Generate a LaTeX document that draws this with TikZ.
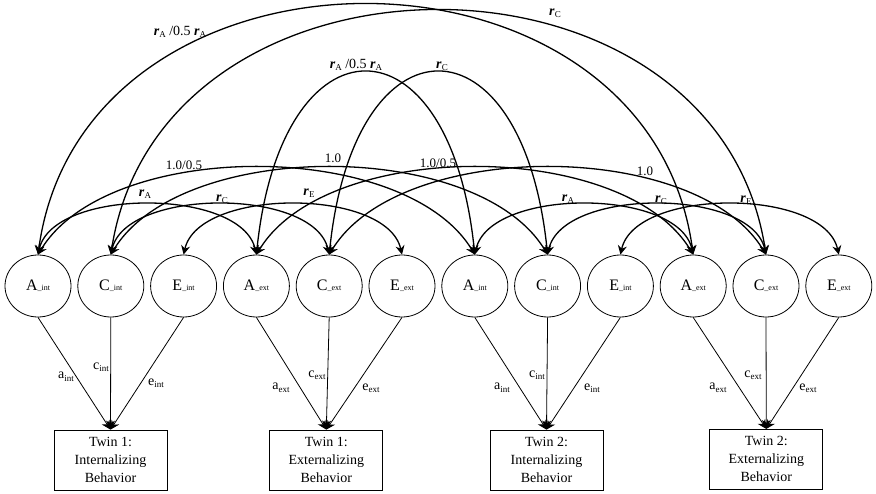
\documentclass[tikz,border=0pt]{standalone}
\usepackage{fontspec}
\setmainfont{Liberation Serif}
\usetikzlibrary{shapes.geometric,arrows.meta}
\newcommand\latlab[2]{{\fontsize{16}{16}\selectfont #1}{\fontsize{8}{8}\selectfont\_#2}}
\newcommand\pathlab[2]{#1\raisebox{-2.5pt}{\fontsize{9}{9}\selectfont #2}}
\newcommand\corlab[1]{\textbf{\textit{r}}\raisebox{-2.5pt}{\fontsize{9}{9}\selectfont #1}}
\begin{document}
\begin{tikzpicture}[x=1pt,y=-1pt,
  lat/.style={ellipse,draw,line width=0.8pt,minimum width=66pt,minimum height=62pt,inner sep=0pt},
  obs/.style={rectangle,draw,line width=0.8pt,minimum width=113pt,minimum height=60pt,align=center,font=\fontsize{14}{18}\selectfont,inner sep=0pt},
  cor/.style={line width=1.3pt,{Stealth[length=9pt,width=9pt]}-{Stealth[length=9pt,width=9pt]}},
  load/.style={line width=0.8pt,-{Stealth[length=9pt,width=9pt]}},
  lbl/.style={inner sep=0pt,font=\fontsize{14}{14}\selectfont},
  num/.style={inner sep=0pt,font=\fontsize{13}{13}\selectfont}
]
\useasboundingbox (0,0) rectangle (876,494);
\fill[white] (0,0) rectangle (876,494);

% latent variables
\node[lat] (A1i) at (38,286)    {\latlab{A}{int}};
\node[lat] (C1i) at (110.8,286) {\latlab{C}{int}};
\node[lat] (E1i) at (183.6,286) {\latlab{E}{int}};
\node[lat] (A1e) at (256.4,286) {\latlab{A}{ext}};
\node[lat] (C1e) at (329.2,286) {\latlab{C}{ext}};
\node[lat] (E1e) at (402,286)   {\latlab{E}{ext}};
\node[lat] (A2i) at (474.8,286) {\latlab{A}{int}};
\node[lat] (C2i) at (547.6,286) {\latlab{C}{int}};
\node[lat] (E2i) at (620.4,286) {\latlab{E}{int}};
\node[lat] (A2e) at (693.2,286) {\latlab{A}{ext}};
\node[lat] (C2e) at (766,286)   {\latlab{C}{ext}};
\node[lat] (E2e) at (838.8,286) {\latlab{E}{ext}};

% observed variables
\node[obs] (B1i) at (110.5,460) {Twin 1:\\Internalizing\\Behavior};
\node[obs] (B1e) at (326.3,460) {Twin 1:\\Externalizing\\Behavior};
\node[obs] (B2i) at (546.5,460) {Twin 2:\\Internalizing\\Behavior};
\node[obs] (B2e) at (766.3,459.3) {Twin 2:\\Externalizing\\Behavior};

% loadings
\draw[load] (A1i.south) -- (B1i.north);
\draw[load] (C1i.south) -- (B1i.north);
\draw[load] (E1i.south) -- (B1i.north);
\draw[load] (A1e.south) -- (B1e.north);
\draw[load] (C1e.south) -- (B1e.north);
\draw[load] (E1e.south) -- (B1e.north);
\draw[load] (A2i.south) -- (B2i.north);
\draw[load] (C2i.south) -- (B2i.north);
\draw[load] (E2i.south) -- (B2i.north);
\draw[load] (A2e.south) -- (B2e.north);
\draw[load] (C2e.south) -- (B2e.north);
\draw[load] (E2e.south) -- (B2e.north);

\node[lbl] (la1) at (66,377)  {\pathlab{a}{int}};
\node[lbl] (lc1) at (101,367) {\pathlab{c}{int}};
\node[lbl] (le1) at (156,383) {\pathlab{e}{int}};
\node[lbl] (la2) at (281,388) {\pathlab{a}{ext}};
\node[lbl] (lc2) at (317,375) {\pathlab{c}{ext}};
\node[lbl] (le2) at (371,388) {\pathlab{e}{ext}};
\node[lbl] (la3) at (502,388) {\pathlab{a}{int}};
\node[lbl] (lc3) at (537,375) {\pathlab{c}{int}};
\node[lbl] (le3) at (592,388) {\pathlab{e}{int}};
\node[lbl] (la4) at (718,388) {\pathlab{a}{ext}};
\node[lbl] (lc4) at (753,375) {\pathlab{c}{ext}};
\node[lbl] (le4) at (808,388) {\pathlab{e}{ext}};

% within-twin correlations
\draw[cor] (A1i.north) .. controls +(15,-67) and +(-15,-67) .. (A1e.north);
\draw[cor] (C1i.north) .. controls +(15,-67) and +(-15,-67) .. (C1e.north);
\draw[cor] (E1i.north) .. controls +(15,-67) and +(-15,-67) .. (E1e.north);
\draw[cor] (A2i.north) .. controls +(15,-67) and +(-15,-67) .. (A2e.north);
\draw[cor] (C2i.north) .. controls +(15,-67) and +(-15,-67) .. (C2e.north);
\draw[cor] (E2i.north) .. controls +(15,-67) and +(-15,-67) .. (E2e.north);

% cross-twin same trait
\draw[cor] (A1i.north) .. controls +(70,-116) and +(-70,-116) .. (A2i.north);
\draw[cor] (C1i.north) .. controls +(70,-116) and +(-70,-116) .. (C2i.north);
\draw[cor] (A1e.north) .. controls +(70,-116) and +(-70,-116) .. (A2e.north);
\draw[cor] (C1e.north) .. controls +(70,-116) and +(-70,-116) .. (C2e.north);

% cross-twin cross-trait
\draw[cor] (A1e.north) .. controls +(25,-243) and +(-25,-243) .. (A2i.north);
\draw[cor] (C1e.north) .. controls +(25,-243) and +(-25,-243) .. (C2i.north);
\draw[cor] (A1i.north) .. controls +(45,-333) and +(-45,-333) .. (A2e.north);
\draw[cor] (C1i.north) .. controls +(50,-325) and +(-50,-325) .. (C2e.north);

% correlation labels
\node[lbl] (rA1) at (145,194) {\corlab{A}};
\node[lbl] (rC1) at (222,199) {\corlab{C}};
\node[lbl] (rE1) at (309,193) {\corlab{E}};
\node[lbl] (rA2) at (568,199) {\corlab{A}};
\node[lbl] (rC2) at (661,200) {\corlab{C}};
\node[lbl] (rE2) at (746,200) {\corlab{E}};

\node[num] (m1) at (184,165) {1.0/0.5};
\node[num] (m2) at (333,158) {1.0};
\node[num] (m3) at (438,163) {1.0/0.5};
\node[num] (m4) at (645,171) {1.0};

\node[lbl] (t1) at (180,32) {\corlab{A} /0.5 \corlab{A}};
\node[lbl] (t2) at (356,65) {\corlab{A} /0.5 \corlab{A}};
\node[lbl] (t3) at (442,66) {\corlab{C}};
\node[lbl] (t4) at (555,13) {\corlab{C}};
\end{tikzpicture}
\end{document}
